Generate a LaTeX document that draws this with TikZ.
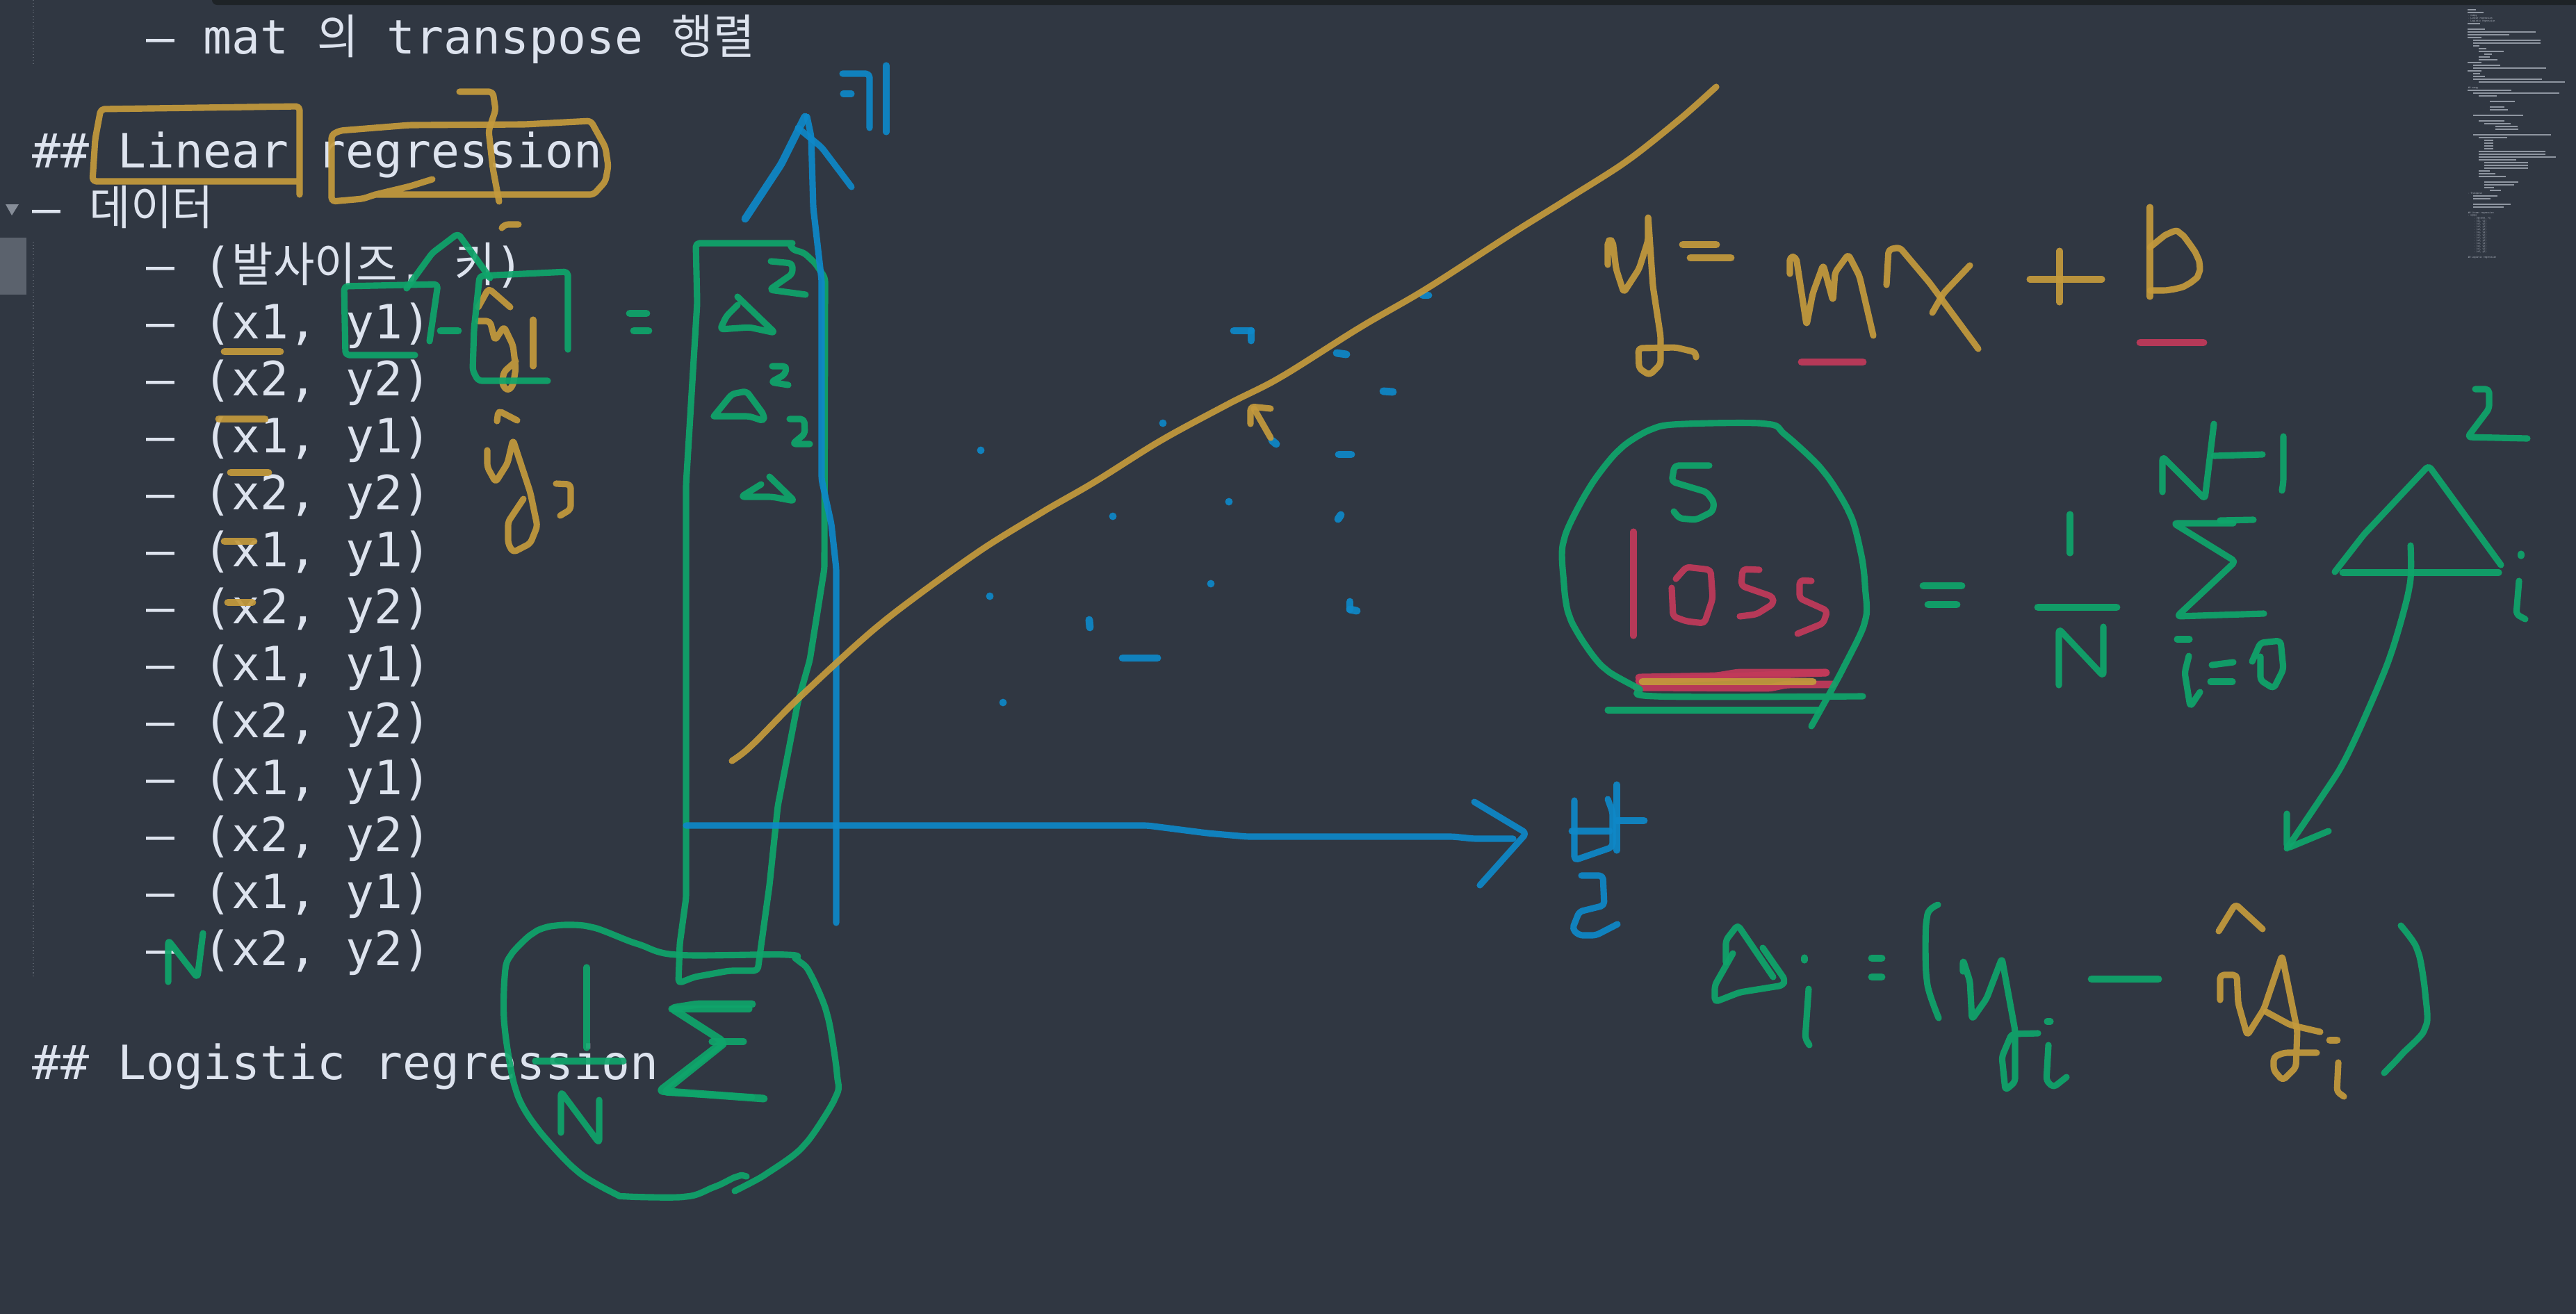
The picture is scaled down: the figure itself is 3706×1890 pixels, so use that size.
\documentclass[tikz,border=0pt]{standalone}
\usepackage{fontspec}
\setmainfont{DejaVu Sans Mono}
\newfontfamily\cjk[FakeStretch=0.95]{Noto Sans CJK KR}
\newfontfamily\minifont[FakeStretch=0.87]{DejaVu Sans Mono}
\newfontfamily\minicjk[FakeStretch=0.87]{Noto Sans CJK KR}
\usepackage{tikz}
\definecolor{bgcol}{HTML}{303742}
\definecolor{barcol}{HTML}{1E2327}
\definecolor{textcol}{HTML}{DDE3EE}
\definecolor{goldcol}{HTML}{C49A3C}
\definecolor{greencol}{HTML}{0FA56B}
\definecolor{bluecol}{HTML}{0E88C8}
\definecolor{redcol}{HTML}{C23A5A}

\begin{document}
\begin{tikzpicture}[
  x=0.01cm, y=-0.01cm,
  pen/.style={line width=2.6pt, line cap=round, line join=round, rounded corners=1.5pt, draw opacity=0.92},
  goldpen/.style={pen, draw=goldcol},
  greenpen/.style={pen, draw=greencol},
  bluepen/.style={pen, draw=bluecol},
  redpen/.style={pen, draw=redcol},
  fat/.style={line width=3.1pt},
  curvy/.style={smooth, tension=0.5},
  code/.style={anchor=base west, inner sep=0pt, text=textcol, font=\fontsize{19.35}{24}\selectfont},
  mini/.style={anchor=base west, inner sep=0pt, text=textcol!75!bgcol, font=\minifont\fontsize{1}{1.2}\selectfont},
  minibar/.style={draw=textcol!55!bgcol, line width=0.55pt},
  guide/.style={draw=textcol!25!bgcol, line width=0.3pt, densely dotted}
]
  \useasboundingbox (0,0) rectangle (3706,1890);
  \fill[bgcol] (-10,-10) rectangle (3716,1900);
  \fill[barcol, rounded corners=2pt] (305,-10) -- (305,7) -- (3716,7) -- (3716,-10) -- cycle;
  \fill[textcol!25!bgcol] (-10,342) rectangle (38,424);
  \fill[textcol!50!bgcol] (8,294) -- (27,294) -- (17,310) -- cycle;
  \draw[guide] (48,0) -- (48,94);
  \draw[guide] (48,348) -- (48,1405);

  \node[code] (matline) at (210,77.5) {– mat {\cjk 의} transpose {\cjk 행렬}};
  \node[code] (lintitle) at (46,241.5) {\#\# Linear regression};
  \node[code] (dataline) at (46,323.5) {– {\cjk 데이터}};
  \node[code] (headrow) at (210,405.5) {– ({\cjk 발사이즈}, {\cjk 키})};
  \foreach \i in {5,...,16}
    \node[code] (row\i) at (210,{77.5+82*\i}) {\ifodd\i – (x1, y1)\else – (x2, y2)\fi};
  \node[code] (logtitle) at (46,1553.5) {\#\# Logistic regression};

  \foreach \yy/\xa/\xb in {42/150/185,54/150/220,102/150/205,126/150/225,138/150/445,150/150/330,
      162/150/210,174/175/465,186/175/465,198/175/200,210/198/230,222/198/305,234/222/255,246/198/245,
      258/198/280,270/150/210,282/175/290,294/175/490,306/150/210,318/175/205,330/175/225,342/175/470,
      354/198/570,390/150/340,402/175/545,414/198/275,438/247/355,462/247/310,474/247/325,498/175/390,
      522/198/310,534/222/335,546/270/365,558/270/370,582/175/510,594/198/320,606/222/260,618/222/262,
      630/222/262,642/222/262,654/198/485,666/198/485,678/198/530,690/198/360,702/222/410,714/222/410,
      726/222/410,738/198/245,750/198/270,762/198/315,786/222/370,798/222/350,810/222/265,822/247/295,
      846/175/280,858/175/250,882/175/335,894/175/305}
    \draw[minibar] ({3500+\xa/3},{\yy/3}) -- ({3500+\xb/3},{\yy/3});
  \node[mini] (mapnumpy) at (3550,23) {- numpy};
  \node[mini] (maplin) at (3550,27) {- Linear regression};
  \node[mini] (maplog) at (3550,31) {- Logistic regression};
  \node[mini] (mapnum) at (3550,127) {\#\# numpy};
  \node[mini] (maptrans) at (3550,279) {- Transpose};
  \node[mini] (maptitle) at (3550,307) {\#\# Linear regression};
  \node[mini] (mapdata) at (3550,311) {- {\minicjk 데이터}};
  \node[mini] (maphead) at (3558,315) {- ({\minicjk 발사이즈}, {\minicjk 키})};
  \foreach \i in {5,...,16}
    \node[mini] (maprow\i) at (3558,{299+4*\i}) {\ifodd\i - (x1, y1)\else - (x2, y2)\fi};
  \node[mini] (maplast) at (3550,371) {\#\# Logistic regression};

  % gold marks over the text
  \draw[goldpen] (431,280) -- (431,153) -- (145,157) -- (137,200) -- (133,261) -- (431,261);
  \draw[goldpen] (622,258) -- (590,268) -- (540,280) -- (522,286) -- (477,290) -- (477,194) -- (489,188) -- (589,180) -- (755,179) -- (850,174) -- (871,212) -- (875,239) -- (871,261) -- (854,280) -- (539,280);
  \draw[goldpen] (661,132) -- (709,132) -- (713,158) -- (703,188) -- (709,242) -- (718,290);
  \draw[goldpen] (722,328) -- (726,323) -- (746,323);
  \foreach \xa/\xb/\yy in {323/403/506,315/381/603,332/386/680,323/365/779,328/363/867}
    \draw[goldpen, fat] (\xa,\yy) -- (\xb,\yy);
  \draw[goldpen] (688,442) -- (703,415) -- (734,442);
  \draw[goldpen] (688,462) -- (705,462) -- (712,490) -- (725,470) -- (738,497) -- (742,530) -- (738,555) -- (730,563) -- (722,552) -- (725,535) -- (742,520);
  \draw[goldpen] (767,460) -- (767,527);
  \draw[goldpen] (715,606) -- (717,591) -- (744,605);
  \draw[goldpen] (701,648) -- (701,672) -- (713,694) -- (730,667) -- (738,633) -- (763,709) -- (773,757) -- (763,782) -- (738,795) -- (731,782) -- (731,751) -- (753,718);
  \draw[goldpen] (800,696) -- (821,697) -- (821,733) -- (806,742);

  % column and sum
  \draw[greenpen] (1140,350) -- (1001,350) -- (1003,436) -- (987,697) -- (987,1292) -- (978,1358) -- (976,1415) -- (999,1406) -- (1049,1397) -- (1090,1397) -- (1107,1274) -- (1119,1160) -- (1148,1010) -- (1165,950) -- (1186,818) -- (1187,400) -- (1173,379) -- (1157,364) -- (1140,359) -- (1136,350);
  \draw[greenpen] plot[curvy] coordinates {(1057,1714) (1103,1689) (1157,1648) (1202,1579) (1204,1544) (1190,1460) (1165,1400) (1148,1382) (1132,1374) (974,1374) (916,1358) (850,1334) (800,1332) (767,1343) (734,1376) (726,1406) (726,1478) (742,1568) (771,1621) (829,1684) (883,1717) (904,1722) (987,1722) (1028,1708) (1061,1693) (1074,1693)};
  \draw[greenpen] (844,1392) -- (844,1508);
  \draw[greenpen] (770,1527) -- (897,1527);
  \draw[greenpen] (807,1630) -- (807,1571) -- (862,1645) -- (862,1583);
  \draw[greenpen, fat] (1082,1445) -- (1003,1445) -- (966,1451) -- (1041,1499) -- (949,1570) -- (1099,1581);
  \draw[greenpen] (1078,1452) -- (966,1452);
  \draw[greenpen] (1041,1503) -- (955,1572) -- (1082,1579);
  \draw[greenpen] (1024,1499) -- (1070,1499);
  \draw[greenpen] (242,1413) -- (242,1353) -- (284,1407) -- (292,1343);
  \draw[greenpen] (597,511) -- (497,511) -- (495,412) -- (630,409) -- (618,491);
  \draw[greenpen] (585,415) -- (622,364) -- (659,336) -- (705,400);
  \draw[greenpen, fat] (634,476) -- (659,476);
  \draw[greenpen] (788,548) -- (688,548) -- (680,533) -- (682,473) -- (690,397) -- (817,391) -- (817,503);
  \draw[greenpen, fat] (906,451) -- (930,451);
  \draw[greenpen, fat] (912,476) -- (933,476);
  \draw[greenpen] (1109,376) -- (1140,379) -- (1140,394) -- (1107,417) -- (1159,424);
  \draw[greenpen] (1061,427) -- (1115,479) -- (1078,471) -- (1036,474) -- (1045,455) -- (1061,439);
  \draw[greenpen] (1111,527) -- (1132,527) -- (1129,539) -- (1109,550) -- (1134,554);
  \draw[greenpen] (1027,599) -- (1078,599) -- (1099,606) -- (1099,597) -- (1074,563) -- (1053,567) -- (1027,599);
  \draw[greenpen] (1136,603) -- (1157,603) -- (1158,624) -- (1140,639) -- (1165,639);
  \draw[greenpen] (1107,686) -- (1143,721) -- (1111,715) -- (1066,715) -- (1095,697);

  % axes and points
  \draw[bluepen] (1161,168) -- (1167,196) -- (1170,299) -- (1182,403) -- (1182,690) -- (1196,754) -- (1203,818) -- (1203,1328);
  \draw[bluepen, fat] (1072,315) -- (1124,236) -- (1158,168);
  \draw[bluepen] (1148,184) -- (1182,212) -- (1225,269);
  \draw[bluepen] (1212,106) -- (1251,106) -- (1251,184);
  \draw[bluepen] (1213,135) -- (1225,135);
  \draw[bluepen] (1275,94) -- (1275,190);
  \draw[bluepen] (987,1188) -- (1651,1188) -- (1737,1199) -- (1794,1204) -- (2091,1204) -- (2120,1207) -- (2177,1207);
  \draw[bluepen] (2121,1154) -- (2196,1199) -- (2129,1274);
  \draw[bluepen] (2265,1152) -- (2265,1238) -- (2320,1219) -- (2320,1169) -- (2313,1150);
  \draw[bluepen, fat] (2262,1196) -- (2315,1196);
  \draw[bluepen] (2326,1129) -- (2326,1224);
  \draw[bluepen, fat] (2326,1181) -- (2365,1181);
  \draw[bluepen] (2275,1260) -- (2306,1260) -- (2308,1303) -- (2272,1312) -- (2262,1337) -- (2272,1346) -- (2296,1346) -- (2327,1330);
  \foreach \xa/\ya/\xb/\yb in {1775/476/1800/476,1800/476/1800/490,2047/425/2055/425,1923/508/1937/510,
      1990/563/2004/564,1673/609/1673/609,1411/648/1411/648,1830/634/1836/639,1926/654/1944/654,
      1601/743/1601/743,1768/722/1768/722,1925/747/1929/741,1424/858/1424/858,1742/840/1742/840,
      1567/892/1568/903,1942/866/1942/877,1942/877/1952/879,1615/947/1665/947,1443/1011/1443/1011}
    \draw[bluepen, fat] (\xa,\ya) -- (\xb,\yb);

  % fit line and y = mx + b
  \draw[goldpen] plot[curvy] coordinates {(1053,1095) (1081,1073) (1153,1001) (1268,897) (1402,798) (1498,738) (1574,694) (1670,634) (1766,582) (1842,543) (1957,471) (2053,415) (2177,335) (2254,287) (2340,232) (2416,172) (2469,125)};
  \draw[goldpen] (1799,610) -- (1799,585) -- (1828,588);
  \draw[goldpen] (1804,588) -- (1828,630);
  \draw[goldpen] (2313,381) -- (2313,346) -- (2320,346) -- (2325,387) -- (2336,421) -- (2358,387) -- (2371,346) -- (2371,310) -- (2378,412) -- (2389,484) -- (2389,524) -- (2373,540) -- (2358,530) -- (2357,501) -- (2411,500) -- (2440,507) -- (2440,514);
  \draw[goldpen, fat] (2421,352) -- (2469,352);
  \draw[goldpen, fat] (2432,371) -- (2490,371);
  \draw[goldpen] (2575,394) -- (2575,369) -- (2584,370) -- (2599,468) -- (2608,422) -- (2623,381) -- (2637,433) -- (2640,392) -- (2659,366) -- (2675,397) -- (2695,483);
  \draw[goldpen] (2714,410) -- (2717,359) -- (2733,356) -- (2776,407) -- (2846,502);
  \draw[goldpen] (2834,382) -- (2796,422) -- (2780,450);
  \draw[goldpen] (2920,402) -- (3024,402);
  \draw[goldpen] (2963,361) -- (2963,435);
  \draw[goldpen] (3093,298) -- (3093,427);
  \draw[goldpen] plot[curvy] coordinates {(3093,356) (3120,336) (3137,336) (3161,369) (3163,394) (3146,410) (3122,417) (3093,418)};
  \draw[redpen, fat] (2592,521) -- (2680,521);
  \draw[redpen, fat] (3079,493) -- (3170,493);

  % loss
  \draw[redpen] (2350,765) -- (2350,915);
  \draw[redpen] (2405,846) -- (2407,887) -- (2426,894) -- (2452,897) -- (2464,861) -- (2461,820) -- (2426,816) -- (2411,833);
  \draw[redpen] (2531,820) -- (2507,819) -- (2505,843) -- (2551,859) -- (2551,869) -- (2527,884) -- (2503,887);
  \draw[redpen] (2606,836) -- (2589,835) -- (2589,861) -- (2629,879) -- (2623,897) -- (2586,912);
  \draw[redpen, fat] (2358,975) -- (2470,973) -- (2500,968) -- (2627,968);
  \draw[redpen, fat] (2627,968) -- (2358,980);
  \draw[redpen, fat] (2354,989) -- (2546,990) -- (2570,985) -- (2637,985);
  \draw[goldpen, fat] (2363,981) -- (2608,981);
  \draw[greenpen] (2459,670) -- (2409,670) -- (2405,693) -- (2455,708) -- (2466,723) -- (2464,736) -- (2440,748) -- (2416,746) -- (2408,736);
  \draw[greenpen] plot[curvy] coordinates {(2680,1002) (2382,1002) (2354,989) (2310,963) (2282,930) (2258,887) (2250,841) (2250,777) (2286,703) (2330,647) (2378,617) (2426,610) (2541,610) (2570,627) (2623,678) (2661,739) (2677,795) (2683,841) (2683,894) (2651,963) (2606,1045)};
  \draw[greenpen] (2313,1022) -- (2615,1022);

  % right hand side
  \draw[greenpen, fat] (2767,843) -- (2822,843);
  \draw[greenpen, fat] (2774,870) -- (2815,870);
  \draw[greenpen] (2978,740) -- (2978,796);
  \draw[greenpen, fat] (2932,874) -- (3045,874);
  \draw[greenpen] (2962,986) -- (2962,905) -- (3026,973) -- (3026,902);
  \draw[greenpen] (3242,748) -- (3194,749);
  \draw[greenpen] (3213,753) -- (3127,753) -- (3216,808) -- (3132,887) -- (3257,883);
  \draw[greenpen] (3111,708) -- (3111,657) -- (3172,718) -- (3185,610);
  \draw[greenpen] (3185,656) -- (3255,654);
  \draw[greenpen] (3285,628) -- (3285,693) -- (3283,706);
  \draw[greenpen] (3132,920) -- (3150,920);
  \draw[greenpen] (3149,944) -- (3143,968) -- (3151,1017) -- (3165,996);
  \draw[greenpen] (3182,957) -- (3213,953);
  \draw[greenpen] (3180,981) -- (3212,981);
  \draw[greenpen] (3240,952) -- (3252,925) -- (3281,922) -- (3285,963) -- (3271,991) -- (3252,979) -- (3252,945);
  \draw[greenpen] (3359,823) -- (3401,769) -- (3494,670) -- (3598,813);
  \draw[greenpen] (3370,824) -- (3595,824);
  \draw[greenpen] (3561,560) -- (3581,560) -- (3581,588) -- (3550,629) -- (3636,631);
  \draw[greenpen] (3627,797) -- (3627,800);
  \draw[greenpen] (3624,836) -- (3620,884) -- (3633,891);
  \draw[greenpen] plot[curvy] coordinates {(3468,785) (3466,846) (3439,943) (3401,1035) (3370,1100) (3338,1150) (3290,1221)};
  \draw[greenpen] (3290,1171) -- (3290,1221) -- (3350,1196);

  % delta definition
  \draw[greenpen] (2483,1385) -- (2483,1353) -- (2500,1331) -- (2551,1406);
  \draw[greenpen] (2493,1372) -- (2467,1418) -- (2467,1442) -- (2503,1428) -- (2565,1418) -- (2568,1410) -- (2536,1364);
  \draw[greenpen] (2596,1378) -- (2596,1382);
  \draw[greenpen] (2602,1423) -- (2597,1494) -- (2603,1504);
  \draw[greenpen, fat] (2693,1379) -- (2707,1379);
  \draw[greenpen, fat] (2693,1406) -- (2707,1406);
  \draw[greenpen] plot[curvy] coordinates {(2788,1302) (2772,1322) (2772,1410) (2789,1465)};
  \draw[greenpen] (2824,1398) -- (2824,1381) -- (2834,1412) -- (2837,1467) -- (2858,1437) -- (2880,1379) -- (2899,1483) -- (2899,1557) -- (2885,1569) -- (2880,1521) -- (2894,1488) -- (2932,1487);
  \draw[greenpen] (2945,1470) -- (2950,1470);
  \draw[greenpen] (2947,1504) -- (2944,1555) -- (2954,1565) -- (2973,1550);
  \draw[greenpen, fat] (3009,1409) -- (3105,1409);
  \draw[greenpen] plot[curvy] coordinates {(3454,1332) (3478,1368) (3489,1429) (3489,1479) (3454,1519) (3430,1544)};
  \draw[goldpen] (3192,1340) -- (3216,1301) -- (3255,1337);
  \draw[goldpen] (3194,1439) -- (3194,1403) -- (3218,1403) -- (3220,1444) -- (3233,1490) -- (3257,1452) -- (3283,1375) -- (3305,1483) -- (3303,1536) -- (3284,1555) -- (3271,1540) -- (3271,1521) -- (3286,1515) -- (3333,1515);
  \draw[goldpen] (3260,1456) -- (3295,1475) -- (3338,1485);
  \draw[goldpen, fat] (3352,1497) -- (3362,1497);
  \draw[goldpen] (3364,1529) -- (3362,1571) -- (3372,1578);
\end{tikzpicture}
\end{document}
